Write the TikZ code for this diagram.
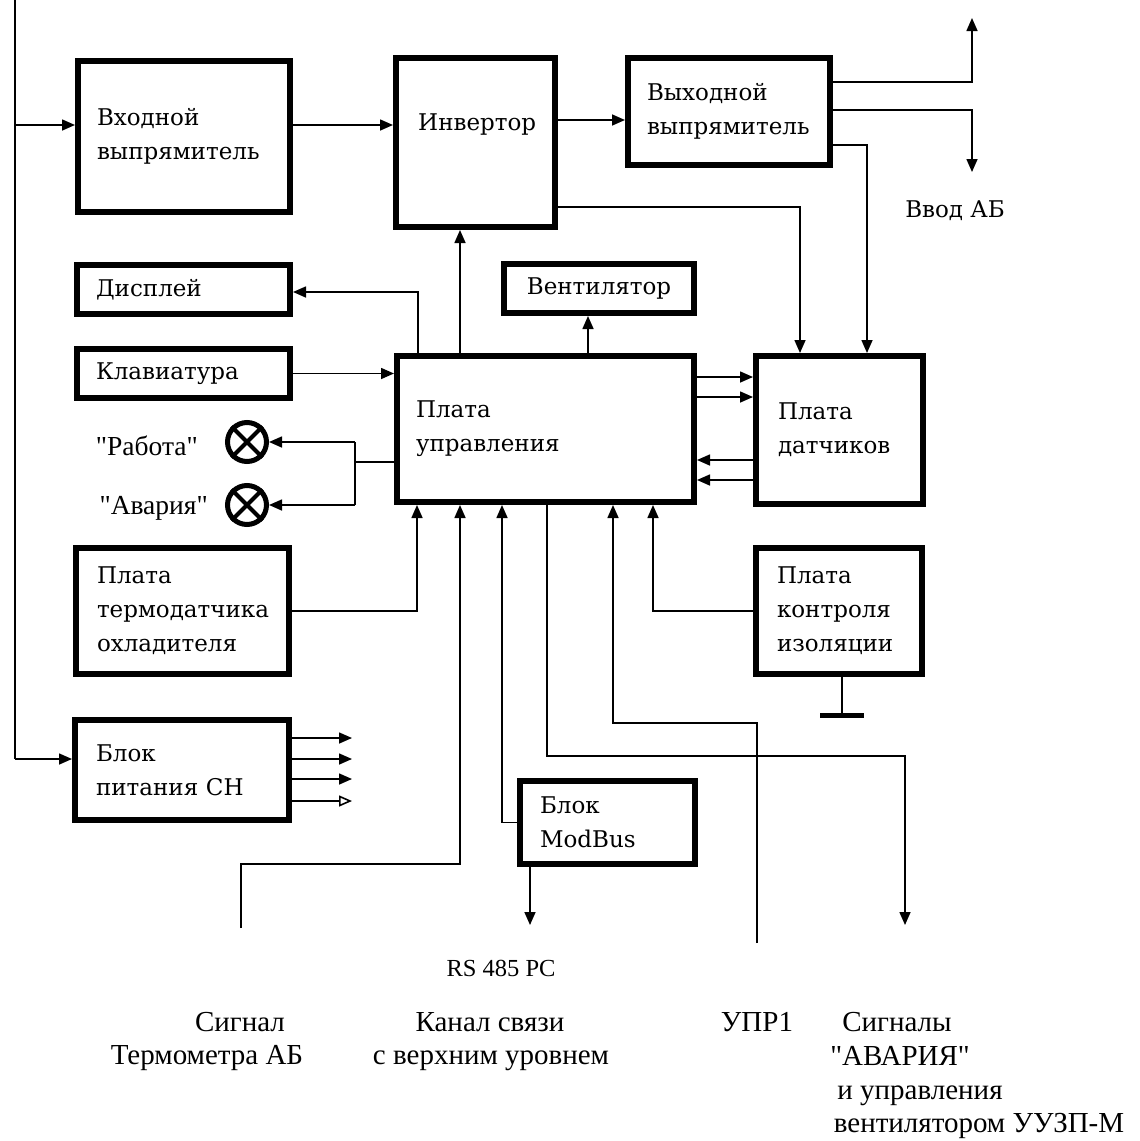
\documentclass[tikz,border=0pt]{standalone}
\usepackage{fontspec}
\setmainfont{DejaVu Serif}
\newfontfamily\lblfont{Liberation Serif}
\usetikzlibrary{arrows.meta}
\newcommand\bxfont{\fontsize{23}{34}\selectfont}
\begin{document}
\begin{tikzpicture}[x=1pt,y=-1pt,
  box/.style={draw, line width=6pt, inner sep=0pt, align=left, font=\bxfont},
  conn/.style={line width=1.6pt},
  arr/.style={conn, -{Triangle[length=13pt,width=11pt]}},
  oarr/.style={conn, -{Triangle[open,length=13pt,width=11pt]}},
  lbl/.style={font=\lblfont\fontsize{29}{34}\selectfont, inner sep=0pt},
  lmplbl/.style={font=\lblfont\fontsize{27.5}{32}\selectfont, inner sep=0pt},
  lamp/.style={draw, circle, line width=5pt, minimum size=39pt, inner sep=0pt},
]
\useasboundingbox (0,0) rectangle (1140,1141);

% boxes
\node[box, minimum width=212pt, minimum height=151pt, text width=174pt] (vhod) at (184,136) {Входной\\выпрямитель};
\node[box, minimum width=159pt, minimum height=169pt] (inv) at (475.5,142.5) {};
\node[anchor=base west, font=\bxfont, inner sep=0pt] (invtxt) at (418,130) {Инвертор};
\node[box, minimum width=202pt, minimum height=107pt, text width=164pt] (vyh) at (729,111.5) {Выходной\\выпрямитель};
\node[box, minimum width=213pt, minimum height=49pt, text width=175pt] (disp) at (183.5,289.5) {Дисплей};
\node[box, minimum width=213pt, minimum height=49pt, text width=175pt] (klav) at (183.5,373.5) {Клавиатура};
\node[box, minimum width=190pt, minimum height=49pt, align=center] (vent) at (599,288.5) {Вентилятор};
\node[box, minimum width=297pt, minimum height=146pt, text width=259pt] (pu) at (545.5,429) {Плата\\управления};
\node[box, minimum width=167pt, minimum height=148pt, text width=123pt] (pd) at (839.5,430) {Плата\\датчиков};
\node[box, minimum width=213pt, minimum height=126pt, text width=171pt] (term) at (182.5,611) {Плата\\термодатчика\\охладителя};
\node[box, minimum width=214pt, minimum height=100pt, text width=172pt] (bp) at (182,770) {Блок\\питания СН};
\node[box, minimum width=175pt, minimum height=83pt, text width=135pt] (mb) at (607.5,822.5) {Блок\\ModBus};
\node[box, minimum width=166pt, minimum height=126pt, text width=124pt] (pki) at (839,611) {Плата\\контроля\\изоляции};

% lamps
\node[lamp] (lamp1) at (247,442) {};
\node[lamp] (lamp2) at (247,505) {};
\draw[line width=4pt] (lamp1.north west) -- (lamp1.south east) (lamp1.north east) -- (lamp1.south west);
\draw[line width=4pt] (lamp2.north west) -- (lamp2.south east) (lamp2.north east) -- (lamp2.south west);
\node[lmplbl, anchor=base east] (rab) at (198,455) {"Работа"};
\node[lmplbl, anchor=base east] (avr) at (208,514) {"Авария"};

% texts
\node[anchor=base, font=\fontsize{23}{28}\selectfont, inner sep=0pt] (vab) at (955,217) {Ввод АБ};
\node[font=\lblfont\fontsize{24.5}{30}\selectfont, inner sep=0pt, anchor=base] (rs) at (501,976) {RS 485 PC};
\node[lbl, anchor=base] (t1) at (240,1031) {Сигнал};
\node[lbl, anchor=base] (t2) at (207,1064) {Термометра АБ};
\node[lbl, anchor=base] (t3) at (490,1031) {Канал связи};
\node[lbl, anchor=base] (t4) at (491,1064) {с верхним уровнем};
\node[lbl, anchor=base] (t5) at (757,1031) {УПР1};
\node[lbl, anchor=base] (t6) at (897,1031) {Сигналы};
\node[lbl, anchor=base] (t7) at (900,1065) {"АВАРИЯ"};
\node[lbl, anchor=base] (t8) at (920,1099) {и управления};
\node[lbl, anchor=base] (t9) at (979,1132) {вентилятором УУЗП-М};

% coordinates
\coordinate (intop) at (15,0);
\coordinate (inbr) at (15,125);
\coordinate (inbot) at (15,759);
\coordinate (r120) at (0,120);
\coordinate (r82) at (0,82);
\coordinate (r110) at (0,110);
\coordinate (abup) at (972,18);
\coordinate (abdn) at (972,172);
\coordinate (r145) at (867,145);
\coordinate (r207) at (800,207);
\coordinate (x418) at (418,292);
\coordinate (x460) at (460,0);
\coordinate (x588) at (588,0);
\coordinate (lt) at (355,442);
\coordinate (lm) at (355,462);
\coordinate (lb) at (355,505);
\coordinate (x417) at (417,0);
\coordinate (tmj) at (460,864);
\coordinate (tmb) at (241,928);
\coordinate (x502) at (502,0);
\coordinate (rsend) at (530,925);
\coordinate (sj1) at (547,756);
\coordinate (sj2) at (905,756);
\coordinate (send) at (905,925);
\coordinate (uj) at (613,723);
\coordinate (upr) at (757,943);
\coordinate (x653) at (653,0);
\coordinate (gnd) at (842,715);
\coordinate (gl) at (820,715);
\coordinate (gr) at (864,715);
\coordinate (p1) at (0,377);
\coordinate (p2) at (0,397);
\coordinate (p3) at (0,460);
\coordinate (p4) at (0,480);
\coordinate (boa) at (352,738);
\coordinate (bob) at (352,759);
\coordinate (boc) at (352,779);
\coordinate (bod) at (352,801);

% connectors
\draw[conn] (intop) -- (inbot);
\draw[arr] (inbr) -- (inbr -| vhod.west);
\draw[arr] (inbot) -- (inbot -| bp.west);
\draw[arr] (vhod.east |- inbr) -- (inv.west |- inbr);
\draw[arr] (inv.east |- r120) -- (vyh.west |- r120);
\draw[arr] (vyh.east |- r82) -| (abup);
\draw[arr] (vyh.east |- r110) -| (abdn);
\draw[arr] (vyh.east |- r145) -| (pd.north -| r145);
\draw[arr] (inv.east |- r207) -| (pd.north -| r207);
\draw[arr] (pu.north -| x588) -- (vent.south -| x588);
\draw[arr] (pu.north -| x460) -- (inv.south -| x460);
\draw[arr] (pu.north -| x418) -- (x418) -- (x418 -| disp.east);
\draw[arr] (klav.east) -- (klav.east -| pu.west);
\draw[arr] (pu.east |- p1) -- (pd.west |- p1);
\draw[arr] (pu.east |- p2) -- (pd.west |- p2);
\draw[arr] (pd.west |- p3) -- (pu.east |- p3);
\draw[arr] (pd.west |- p4) -- (pu.east |- p4);
\draw[conn] (pu.west |- lm) -- (lm);
\draw[conn] (lt) -- (lb);
\draw[arr] (lt) -- (lamp1.east);
\draw[arr] (lb) -- (lamp2.east);
\draw[arr] (term.east) -| (pu.south -| x417);
\draw[arr] (tmb) |- (tmj) -- (tmj |- pu.south);
\draw[arr] (mb.west) -| (pu.south -| x502);
\draw[arr] (mb.south -| rsend) -- (rsend);
\draw[arr] (pu.south -| sj1) -- (sj1) -- (sj2) -- (send);
\draw[arr] (upr) |- (uj) -- (uj |- pu.south);
\draw[arr] (pki.west) -| (pu.south -| x653);
\draw[conn] (pki.south -| gnd) -- (gnd);
\draw[line width=5pt] (gl) -- (gr);
\draw[arr] (bp.east |- boa) -- (boa);
\draw[arr] (bp.east |- bob) -- (bob);
\draw[arr] (bp.east |- boc) -- (boc);
\draw[oarr] (bp.east |- bod) -- (bod);
\end{tikzpicture}
\end{document}
